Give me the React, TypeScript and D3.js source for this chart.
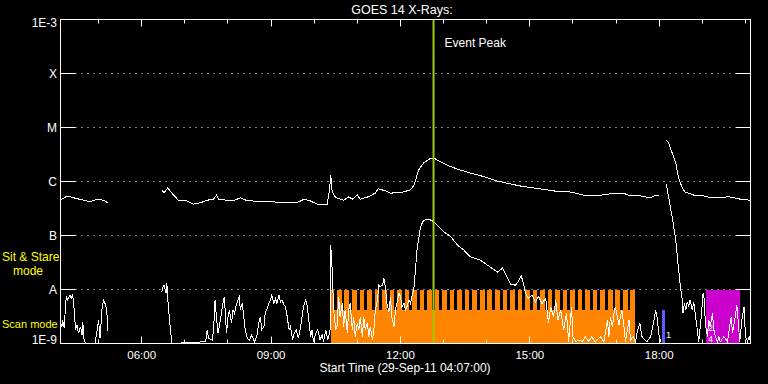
import React, { useEffect, useRef } from 'react'
import * as d3 from 'd3'

// time range of the plot (29-Sep-2011)
const START = '04:07'
const END = '20:07'

// GOES 14 long channel (1-8 A), W/m^2, null = data gap
const LONG_CHANNEL: [string, number | null][] = [
  ['04:07', 4.5e-7], ['04:16', 5.4e-7], ['04:25', 5.0e-7], ['04:39', 4.5e-7], ['04:48', 4.2e-7],
  ['04:58', 4.7e-7], ['05:07', 4.5e-7], ['05:13', 4.0e-7], ['05:14', null],
  ['06:28', 7.0e-7], ['06:31', 6.1e-7], ['06:36', 7.6e-7], ['06:42', 6.1e-7], ['06:51', 4.5e-7],
  ['07:03', 4.35e-7], ['07:12', 3.8e-7], ['07:22', 4.05e-7], ['07:31', 4.5e-7], ['07:40', 4.7e-7],
  ['07:44', 5.6e-7], ['07:47', 4.7e-7], ['07:59', 4.5e-7], ['08:08', 4.4e-7], ['08:17', 5.0e-7],
  ['08:27', 4.4e-7], ['08:45', 4.3e-7], ['09:03', 4.2e-7], ['09:17', 4.0e-7], ['09:27', 4.05e-7],
  ['09:36', 4.05e-7], ['09:46', 4.7e-7], ['09:55', 4.35e-7], ['10:04', 3.8e-7], ['10:18', 3.8e-7],
  ['10:21', 6.5e-7], ['10:23', 1.3e-6], ['10:25', 6.4e-7], ['10:30', 5.0e-7], ['10:41', 4.5e-7],
  ['10:48', 5.2e-7], ['10:53', 4.7e-7], ['11:00', 5.6e-7], ['11:04', 4.7e-7], ['11:15', 5.2e-7],
  ['11:25', 6.1e-7], ['11:29', 7.35e-7], ['11:39', 6.7e-7], ['11:46', 6.1e-7], ['12:00', 6.2e-7],
  ['12:14', 7.0e-7], ['12:19', 8.6e-7], ['12:25', 1.6e-6], ['12:32', 2.2e-6], ['12:42', 2.7e-6],
  ['12:47', 2.7e-6], ['12:56', 2.3e-6], ['13:05', 2.0e-6], ['13:19', 1.7e-6], ['13:37', 1.44e-6],
  ['13:56', 1.23e-6], ['14:15', 1.02e-6], ['14:33', 9.0e-7], ['14:47', 8.25e-7], ['15:05', 7.6e-7],
  ['15:24', 7.0e-7], ['15:43', 6.4e-7], ['15:54', 6.5e-7], ['16:20', 5.4e-7], ['16:38', 5.55e-7],
  ['16:52', 5.9e-7], ['17:10', 6.1e-7], ['17:20', 5.4e-7], ['17:34', 5.4e-7], ['17:48', 5.0e-7],
  ['17:55', 5.6e-7], ['18:00', 5.45e-7], ['18:05', null],
  ['18:10', 5.9e-6], ['18:13', 5.2e-6], ['18:18', 3.4e-6], ['18:23', 2.2e-6], ['18:27', 1.16e-6],
  ['18:32', 7.6e-7], ['18:36', 6.4e-7], ['18:48', 5.6e-7], ['18:58', 5.6e-7], ['19:12', 5.0e-7],
  ['19:25', 5.1e-7], ['19:37', 5.2e-7], ['19:53', 4.7e-7], ['20:07', 4.5e-7],
]

// short channel (0.5-4 A)
const SHORT_CHANNEL: [string, number | null][] = [
  ['04:07', 2.5e-9], ['04:09', 2.05e-9], ['04:10', 2.7e-9], ['04:12', 1.95e-9], ['04:15', 7.4e-9],
  ['04:17', 6.4e-9], ['04:20', 7.9e-9], ['04:22', 6.9e-9], ['04:24', 7.9e-9], ['04:26', 4.2e-9],
  ['04:28', 1.8e-9], ['04:30', 2.2e-9], ['04:32', 1.55e-9], ['04:35', 2.05e-9], ['04:37', 1.44e-9],
  ['04:38', 2.5e-9], ['04:40', 1.08e-9], ['04:44', 1.0e-9], ['04:55', 1.0e-9], ['04:58', 1.8e-9],
  ['05:00', 2.7e-9], ['05:02', 1.25e-9], ['05:05', 4.8e-9], ['05:07', 6.2e-9], ['05:10', 5.2e-9],
  ['05:12', 3.1e-9], ['05:13', 1.7e-9], ['05:14', null],
  ['06:28', 9.1e-9], ['06:29', 1.05e-8], ['06:31', 1.2e-8], ['06:34', 8.5e-9], ['06:35', 1.3e-8],
  ['06:37', 4.8e-9], ['06:40', 1.8e-9], ['06:42', 1.0e-9], ['07:29', 1.08e-9], ['07:31', 1.8e-9],
  ['07:33', 1.25e-9], ['07:38', 1.16e-9], ['07:40', 1.8e-9], ['07:42', 6.4e-9], ['07:44', 3.1e-9],
  ['07:46', 1.55e-9], ['07:48', 2.05e-9], ['07:50', 3.1e-9], ['07:53', 5.5e-9], ['07:55', 7.4e-9],
  ['07:56', 4.2e-9], ['07:58', 1.55e-9], ['08:00', 3.1e-9], ['08:02', 4.2e-9], ['08:05', 2.4e-9],
  ['08:07', 4.2e-9], ['08:09', 3.6e-9], ['08:11', 4.8e-9], ['08:14', 6.4e-9], ['08:16', 7.9e-9],
  ['08:17', 4.2e-9], ['08:20', 5.5e-9], ['08:22', 3.1e-9], ['08:24', 1.8e-9], ['08:27', 1.25e-9],
  ['08:30', 1.16e-9], ['08:33', 1.44e-9], ['08:37', 1.08e-9], ['08:40', 1.34e-9], ['08:43', 2.4e-9],
  ['08:45', 3.1e-9], ['08:47', 1.8e-9], ['08:50', 2.05e-9], ['08:52', 3.9e-9], ['08:54', 4.2e-9],
  ['08:57', 5.5e-9], ['08:59', 6.4e-9], ['09:01', 7.9e-9], ['09:04', 5.5e-9], ['09:06', 6.9e-9],
  ['09:08', 5.5e-9], ['09:11', 7.9e-9], ['09:13', 5.9e-9], ['09:15', 6.4e-9], ['09:18', 5.2e-9],
  ['09:20', 4.8e-9], ['09:22', 3.4e-9], ['09:25', 1.8e-9], ['09:27', 2.05e-9], ['09:30', 1.16e-9],
  ['09:32', 1.55e-9], ['09:35', 1.8e-9], ['09:38', 1.25e-9], ['09:41', 2.05e-9], ['09:43', 3.1e-9],
  ['09:45', 4.8e-9], ['09:48', 6.4e-9], ['09:50', 5.2e-9], ['09:52', 3.1e-9], ['09:55', 1.34e-9],
  ['09:57', 1.8e-9], ['09:59', 1.08e-9], ['10:02', 1.55e-9], ['10:05', 1.8e-9], ['10:08', 1.16e-9],
  ['10:11', 1.44e-9], ['10:13', 1.08e-9], ['10:16', 1.8e-9], ['10:19', 1.16e-9], ['10:22', 1.8e-9],
  ['10:23', 6.7e-8], ['10:25', 2.3e-8], ['10:27', 4.2e-9], ['10:30', 1.8e-9], ['10:32', 2.2e-9],
  ['10:34', 7.4e-9], ['10:36', 3.1e-9], ['10:39', 5.5e-9], ['10:41', 2.05e-9], ['10:43', 4.2e-9],
  ['10:46', 1.55e-9], ['10:48', 4.2e-9], ['10:50', 5.5e-9], ['10:53', 1.8e-9], ['10:55', 3.1e-9],
  ['10:57', 1.34e-9], ['11:00', 2.4e-9], ['11:02', 1.8e-9], ['11:04', 3.1e-9], ['11:07', 1.34e-9],
  ['11:09', 3.1e-9], ['11:11', 1.8e-9], ['11:14', 2.4e-9], ['11:16', 1.34e-9], ['11:18', 2.05e-9],
  ['11:21', 1.16e-9], ['11:23', 1.8e-9], ['11:25', 4.2e-9], ['11:28', 6.4e-9], ['11:30', 1.2e-8],
  ['11:32', 1.13e-8], ['11:35', 1.2e-8], ['11:37', 1.6e-8], ['11:39', 1.13e-8], ['11:41', 5.5e-9],
  ['11:44', 3.9e-9], ['11:46', 7.4e-9], ['11:48', 3.1e-9], ['11:51', 2.05e-9], ['11:53', 4.2e-9],
  ['11:55', 5.5e-9], ['11:58', 8.5e-9], ['12:00', 7.4e-9], ['12:02', 4.8e-9], ['12:05', 5.5e-9],
  ['12:07', 4.2e-9], ['12:09', 4.8e-9], ['12:12', 6.4e-9], ['12:14', 5.5e-9], ['12:16', 7.4e-9],
  ['12:19', 1.13e-8], ['12:23', 5.4e-8], ['12:28', 1.46e-7], ['12:32', 1.9e-7], ['12:38', 2.0e-7],
  ['12:44', 1.9e-7], ['12:51', 1.56e-7], ['13:00', 1.18e-7], ['13:10', 9.5e-8], ['13:19', 6.7e-8],
  ['13:28', 5.4e-8], ['13:37', 4.05e-8], ['13:51', 3.5e-8], ['14:05', 2.6e-8], ['14:15', 2.1e-8],
  ['14:19', 2.3e-8], ['14:22', 2.5e-8], ['14:29', 1.63e-8], ['14:33', 1.26e-8], ['14:40', 1.2e-8],
  ['14:44', 1.4e-8], ['14:48', 1.8e-8], ['14:51', 1.3e-8], ['14:54', 8.5e-9], ['14:58', 6.9e-9],
  ['15:03', 7.9e-9], ['15:08', 5.9e-9], ['15:12', 7.4e-9], ['15:17', 5.5e-9], ['15:22', 6.9e-9],
  ['15:26', 2.4e-9], ['15:29', 4.8e-9], ['15:33', 3.1e-9], ['15:36', 6.4e-9], ['15:39', 2.7e-9],
  ['15:43', 4.2e-9], ['15:47', 1.8e-9], ['15:51', 3.6e-9], ['15:54', 1.08e-9], ['15:58', 4.8e-9],
  ['16:00', 1.34e-9], ['16:04', 1.08e-9], ['16:08', 1.16e-9], ['16:13', 1.08e-9], ['16:17', 1.34e-9],
  ['16:22', 1.08e-9], ['16:26', 1.34e-9], ['16:31', 1.08e-9], ['16:38', 1.34e-9], ['16:43', 1.08e-9],
  ['16:48', 2.7e-9], ['16:50', 1.34e-9], ['16:52', 3.1e-9], ['16:55', 2.05e-9], ['16:57', 3.6e-9],
  ['16:59', 4.8e-9], ['17:01', 3.6e-9], ['17:04', 2.2e-9], ['17:06', 3.1e-9], ['17:08', 4.2e-9],
  ['17:11', 2.05e-9], ['17:13', 1.08e-9], ['17:18', 2.7e-9], ['17:20', 1.16e-9], ['17:24', 1.34e-9],
  ['17:27', 1.08e-9], ['17:29', 1.55e-9], ['17:33', 2.4e-9], ['17:36', 1.34e-9], ['17:40', 1.16e-9],
  ['17:43', 1.08e-9], ['17:48', 1.34e-9], ['17:52', 2.4e-9], ['17:55', 4.2e-9], ['17:57', 3.1e-9],
  ['18:00', 1.34e-9], ['18:02', 1.08e-9], ['18:05', null],
  ['18:10', 9.0e-7], ['18:13', 5.2e-7], ['18:18', 2.2e-7], ['18:23', 8.3e-8], ['18:26', 3.1e-8],
  ['18:29', 1.3e-8], ['18:32', 6.4e-9], ['18:33', 3.6e-9], ['18:35', 5.5e-9], ['18:37', 4.2e-9],
  ['18:39', 5.9e-9], ['18:41', 4.8e-9], ['18:43', 6.4e-9], ['18:46', 4.2e-9], ['18:48', 5.9e-9],
  ['18:50', 3.6e-9], ['18:53', 1.8e-9], ['18:55', 1.08e-9], ['18:58', 2.7e-9], ['19:00', 5.5e-9],
  ['19:01', 8.5e-9], ['19:03', 6.4e-9], ['19:04', 2.4e-9], ['19:07', 1.34e-9], ['19:09', 2.7e-9],
  ['19:11', 2.05e-9], ['19:14', 3.6e-9], ['19:16', 1.8e-9], ['19:18', 1.34e-9], ['19:21', 1.08e-9],
  ['19:23', 1.34e-9], ['19:25', 1.08e-9], ['19:30', 1.34e-9], ['19:35', 1.08e-9], ['19:38', 2.05e-9],
  ['19:40', 3.1e-9], ['19:42', 1.55e-9], ['19:45', 2.7e-9], ['19:48', 5.2e-9], ['19:49', 3.6e-9],
  ['19:52', 1.08e-9], ['19:55', 2.7e-9], ['19:58', 4.8e-9], ['20:00', 1.34e-9], ['20:03', 1.08e-9],
  ['20:05', 1.34e-9], ['20:07', 1.08e-9],
]

const LEVELS = [1e-3, 1e-4, 1e-5, 1e-6, 1e-7, 1e-8, 1e-9]
const LEVEL_LABELS = ['1E-3', 'X', 'M', 'C', 'B', 'A', '1E-9']
const HOUR_TICKS = ['05:00', '06:00', '07:00', '08:00', '09:00', '10:00', '11:00', '12:00',
  '13:00', '14:00', '15:00', '16:00', '17:00', '18:00', '19:00', '20:00']
const LABELED_TICKS = ['06:00', '09:00', '12:00', '15:00', '18:00']

const EVENT_PEAK = '12:46'

// observing mode spans
const SCAN_SPAN = ['10:23', '17:26']
const SCAN_NOTCHES = ['10:27', '10:38', '10:48', '10:59', '11:09', '11:20', '11:30', '11:41',
  '11:51', '12:02', '12:12', '12:23', '12:33', '12:44', '12:54', '13:05', '13:15', '13:26',
  '13:36', '13:47', '13:57', '14:07', '14:18', '14:28', '14:39', '14:49', '15:00', '15:10',
  '15:21', '15:31', '15:42', '15:52', '16:03', '16:13', '16:24', '16:34', '16:45', '16:55',
  '17:06', '17:16']
const NOTCH_MIN = 4
const BLUE_SPAN = ['18:04', '18:08']
const MAGENTA_SPAN = ['19:05', '19:53']

const t = (s: string, extraMin = 0) => {
  const [h, m] = s.split(':').map(Number)
  return new Date(2011, 8, 29, h, m + extraMin)
}

const FONT = "'Liberation Sans', Arial, sans-serif"

export default function App() {
  const svgRef = useRef<SVGSVGElement>(null)

  useEffect(() => {
    const svg = d3.select(svgRef.current)
    svg.selectAll('*').remove()

    const left = 60.5, right = 750.5, top = 19.5, bottom = 343.5

    const x = d3.scaleTime().domain([t(START), t(END)]).range([left, right])
    const y = d3.scaleLog().domain([1e-9, 1e-3]).range([bottom, top]).clamp(true)

    svg.append('rect').attr('width', 768).attr('height', 384).attr('fill', '#000')

    // dotted level lines + level ticks
    LEVELS.slice(1, -1).forEach(v => {
      const yy = Math.round(y(v) - 0.5) + 0.5
      svg.append('line')
        .attr('x1', left + 15).attr('x2', right - 15).attr('y1', yy).attr('y2', yy)
        .attr('stroke', '#fff').attr('stroke-dasharray', '1,5')
      svg.append('line').attr('x1', left).attr('x2', left + 15).attr('y1', yy).attr('y2', yy).attr('stroke', '#fff')
      svg.append('line').attr('x1', right - 15).attr('x2', right).attr('y1', yy).attr('y2', yy).attr('stroke', '#fff')
    })

    // scan / sit & stare blocks
    const aY = y(1e-8)
    svg.append('rect')
      .attr('x', x(t(SCAN_SPAN[0]))).attr('width', x(t(SCAN_SPAN[1])) - x(t(SCAN_SPAN[0])))
      .attr('y', aY).attr('height', bottom - aY)
      .attr('fill', '#ff8400').attr('shape-rendering', 'crispEdges')
    svg.selectAll('.notch').data(SCAN_NOTCHES).enter().append('rect')
      .attr('x', d => x(t(d)))
      .attr('width', d => x(t(d, NOTCH_MIN)) - x(t(d)))
      .attr('y', aY).attr('height', 20)
      .attr('fill', '#000').attr('shape-rendering', 'crispEdges')
    svg.append('rect')
      .attr('x', x(t(BLUE_SPAN[0]))).attr('width', x(t(BLUE_SPAN[1])) - x(t(BLUE_SPAN[0])))
      .attr('y', aY + 20).attr('height', bottom - aY - 20)
      .attr('fill', '#5c5cff').attr('shape-rendering', 'crispEdges')
    svg.append('rect')
      .attr('x', x(t(MAGENTA_SPAN[0]))).attr('width', x(t(MAGENTA_SPAN[1])) - x(t(MAGENTA_SPAN[0])))
      .attr('y', aY).attr('height', bottom - aY)
      .attr('fill', '#cc00cc').attr('shape-rendering', 'crispEdges')

    // flux curves
    const line = d3.line<[string, number | null]>()
      .defined(d => d[1] !== null)
      .x(d => x(t(d[0])))
      .y(d => y(d[1] as number))

    svg.append('path').datum(LONG_CHANNEL)
      .attr('fill', 'none').attr('stroke', '#fff').attr('stroke-width', 1)
      .attr('shape-rendering', 'crispEdges').attr('d', line)
    svg.append('path').datum(SHORT_CHANNEL)
      .attr('fill', 'none').attr('stroke', '#fff').attr('stroke-width', 1)
      .attr('shape-rendering', 'crispEdges').attr('d', line)

    // event peak
    const px = x(t(EVENT_PEAK))
    svg.append('line').attr('x1', px).attr('x2', px).attr('y1', top).attr('y2', bottom)
      .attr('stroke', '#99cc00').attr('stroke-width', 2)
    svg.append('text').attr('x', px + 11).attr('y', 47).text('Event Peak')
      .attr('fill', '#fff').attr('font-size', 12).attr('font-family', FONT)

    // frame
    svg.append('rect').attr('x', left).attr('y', top).attr('width', right - left).attr('height', bottom - top)
      .attr('fill', 'none').attr('stroke', '#fff')

    // time ticks top + bottom
    HOUR_TICKS.forEach(h => {
      const xx = Math.round(x(t(h)) - 0.5) + 0.5
      const len = LABELED_TICKS.includes(h) ? 7 : 4
      svg.append('line').attr('x1', xx).attr('x2', xx).attr('y1', bottom).attr('y2', bottom - len).attr('stroke', '#fff')
      svg.append('line').attr('x1', xx).attr('x2', xx).attr('y1', top).attr('y2', top + len).attr('stroke', '#fff')
    })
    LABELED_TICKS.forEach(h => {
      svg.append('text').attr('x', x(t(h))).attr('y', 358.5).attr('text-anchor', 'middle')
        .attr('fill', '#fff').attr('font-size', 11.5).attr('font-family', FONT).text(h)
    })

    // level labels
    LEVELS.forEach((v, i) => {
      const yy = Math.min(Math.max(y(v), 23), 340)
      svg.append('text').attr('x', 57).attr('y', yy).attr('dy', '0.36em').attr('text-anchor', 'end')
        .attr('fill', '#fff').attr('font-size', 12).attr('font-family', FONT).text(LEVEL_LABELS[i])
    })

    // titles
    svg.append('text').attr('x', 402).attr('y', 13.5).attr('text-anchor', 'middle')
      .attr('fill', '#fff').attr('font-size', 12.5).attr('font-family', FONT).text('GOES 14 X-Rays:')
    svg.append('text').attr('x', 405).attr('y', 372).attr('text-anchor', 'middle')
      .attr('fill', '#fff').attr('font-size', 12).attr('font-family', FONT).text('Start Time (29-Sep-11 04:07:00)')

    // mode labels
    const yellow = (txt: string, xx: number, yy: number, size: number) =>
      svg.append('text').attr('x', xx).attr('y', yy).attr('fill', '#ffff00')
        .attr('font-size', size).attr('font-family', FONT).text(txt)
    yellow('Sit & Stare', 2, 261, 12)
    yellow('mode', 13, 275, 12)
    yellow('Scan mode', 2, 328, 11)

    // flare numbers
    const num = (txt: string, xx: number, yy: number) =>
      svg.append('text').attr('x', xx).attr('y', yy).attr('fill', '#fff')
        .attr('font-size', 9).attr('font-family', FONT).text(txt)
    num('1', x(t(BLUE_SPAN[1])) + 1, 338)
    num('2', x(t(MAGENTA_SPAN[0])) + 2, 331)
    num('4', x(t(MAGENTA_SPAN[0])) + 2, 342)
  }, [])

  return (
    <svg ref={svgRef} width={768} height={384}
      style={{ position: 'absolute', left: 0, top: 0, display: 'block', background: '#000' }} />
  )
}
